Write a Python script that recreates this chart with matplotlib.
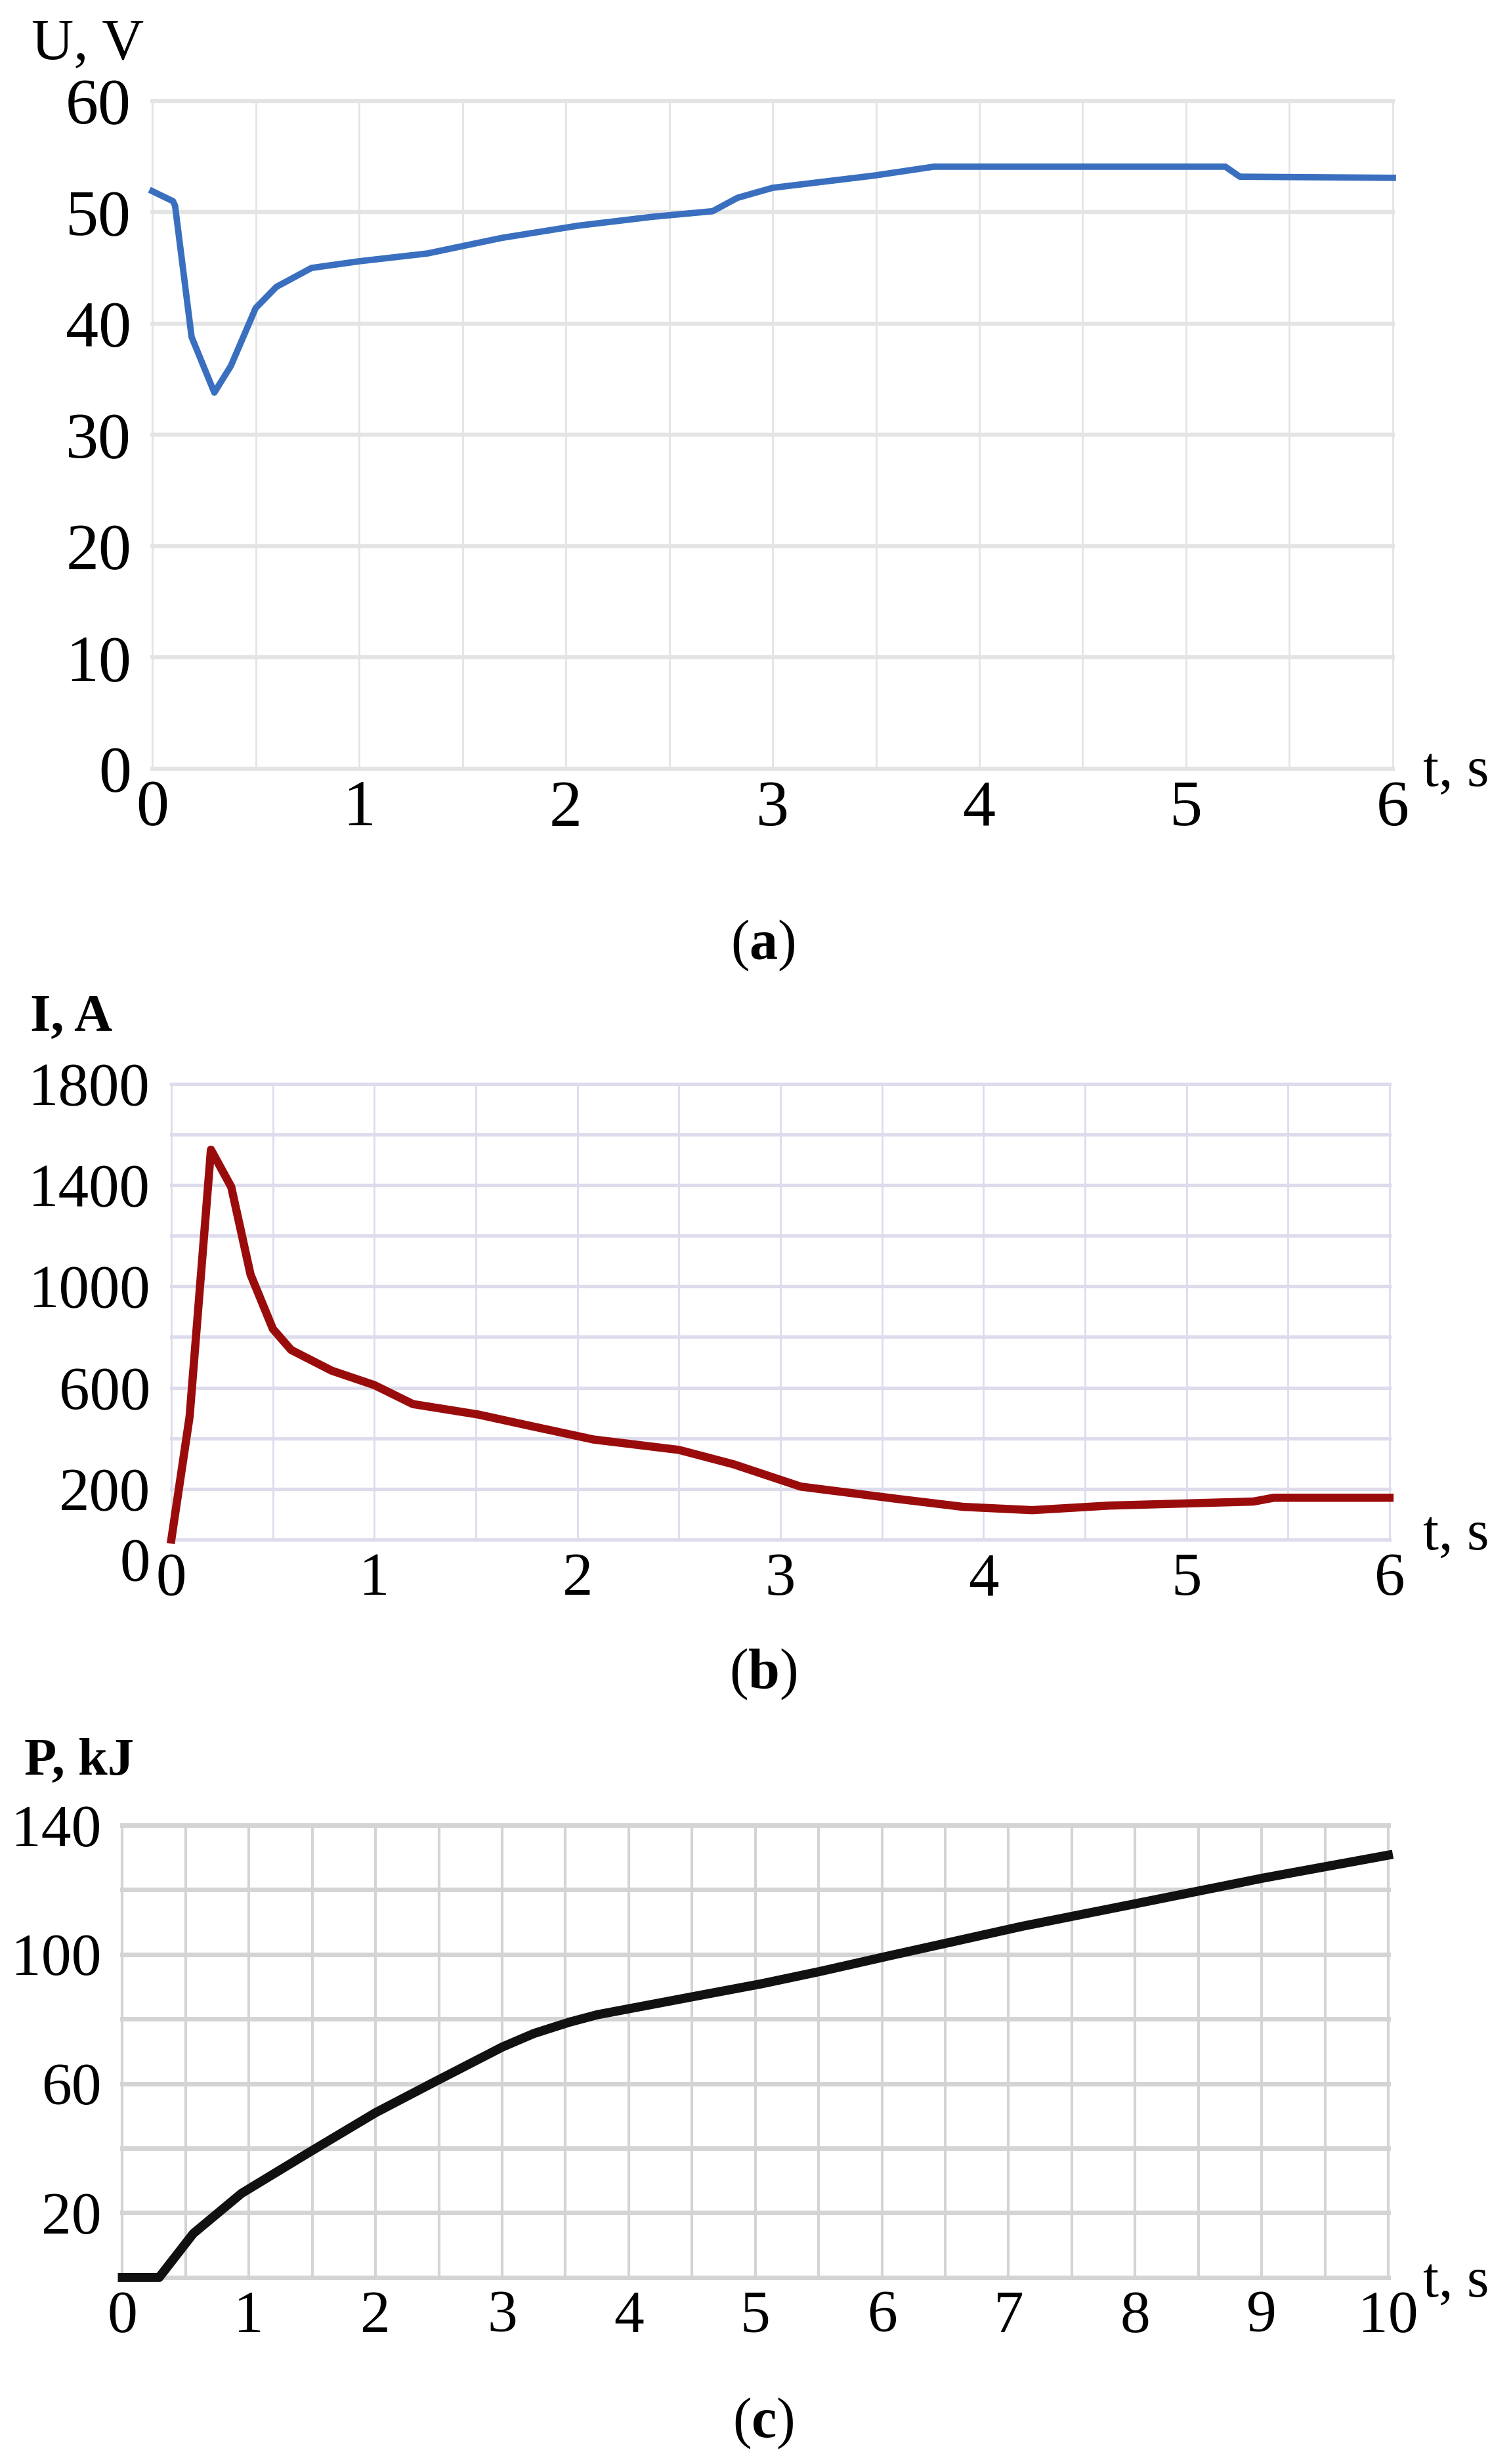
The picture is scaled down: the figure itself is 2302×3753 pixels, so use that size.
import numpy as np
import matplotlib
matplotlib.use("Agg")
import matplotlib.pyplot as plt
from matplotlib.transforms import ScaledTranslation

# (a) voltage
u_t = [0, 0.1, 0.11, 0.19, 0.30, 0.38, 0.50, 0.60, 0.77, 1.0, 1.33, 1.69,
       2.06, 2.42, 2.71, 2.83, 3.0, 3.49, 3.78, 5.19, 5.26, 6.0]
u_v = [51.9, 51.0, 50.6, 38.8, 33.8, 36.2, 41.4, 43.3, 45.0, 45.6, 46.3, 47.7,
       48.8, 49.6, 50.1, 51.3, 52.2, 53.3, 54.1, 54.1, 53.2, 53.1]

# (b) current
i_t = [0, 0.09, 0.195, 0.295, 0.39, 0.50, 0.59, 0.79, 1.0, 1.19, 1.51, 1.75,
       2.08, 2.50, 2.77, 3.1, 3.58, 3.9, 4.24, 4.62, 5.33, 5.43, 6.0]
i_a = [0, 486, 1540, 1393, 1047, 832, 749, 667, 610, 535, 494, 452,
       395, 354, 297, 209, 160, 129, 116, 134, 150, 165, 165]

# (c) energy
p_t = [0, 0.29, 0.56, 0.94, 1.47, 2.0, 2.46, 3.0, 3.25, 3.53, 3.75, 3.98,
       4.25, 4.52, 5.05, 5.51, 6.04, 6.57, 7.11, 8.02, 9.01, 10.0]
p_kj = [0, 0, 13.6, 26, 38.6, 51, 60.4, 71.3, 75.5, 79, 81.3, 83,
        85, 87, 90.9, 94.7, 99.4, 104, 108.7, 115.8, 123.6, 130.7]

u_xticks = [0, 1, 2, 3, 4, 5, 6]
u_yticks = [0, 10, 20, 30, 40, 50, 60]
i_xticks = [0, 1, 2, 3, 4, 5, 6]
i_yticks = [0, 200, 600, 1000, 1400, 1800]
p_xticks = [0, 1, 2, 3, 4, 5, 6, 7, 8, 9, 10]
p_yticks = [20, 60, 100, 140]

plt.rcParams["font.family"] = ["Liberation Serif", "DejaVu Serif"]
plt.rcParams["mathtext.fontset"] = "custom"
plt.rcParams["mathtext.rm"] = "Liberation Serif"
plt.rcParams["mathtext.bf"] = "Liberation Serif:bold"

fig = plt.figure(figsize=(23.02, 37.53), dpi=100)


def setup_axes(rect, xlim, ylim, xgrid, ygrid, xticks, yticks, gcol,
               hw, vw, xpad, size):
    ax = fig.add_axes(rect)
    ax.set_xlim(*xlim)
    ax.set_ylim(*ylim)
    for s in ax.spines.values():
        s.set_visible(False)
    for x in xgrid:
        ax.axvline(x, color=gcol, lw=vw, zorder=0, clip_on=False)
    for y in ygrid:
        ax.axhline(y, color=gcol, lw=hw, zorder=0, clip_on=False)
    ax.set_xticks(xticks)
    ax.set_yticks(yticks)
    ax.tick_params(axis="both", length=0, labelsize=size)
    ax.tick_params(axis="y", pad=23)
    ax.tick_params(axis="x", pad=xpad)
    return ax


# panel (a)
ax_a = setup_axes([0.1008, 0.6880, 0.8210, 0.2710], (0, 6), (0, 60),
                  np.arange(0, 6.01, 0.5), np.arange(0, 61, 10), u_xticks,
                  u_yticks, "#e4e4e4", 4.5, 2.0, 12, 72)
ax_a.plot(u_t, u_v, color="#3a6fbf", lw=7, clip_on=False, zorder=3,
          solid_joinstyle="round")

# panel (b)
ax_b = setup_axes([0.1134, 0.3752, 0.8062, 0.1849], (0, 6), (0, 1800),
                  np.arange(0, 6.01, 0.5), np.arange(0, 1801, 200), i_xticks,
                  i_yticks, "#dcdcec", 3.8, 2.0, 14, 67)
ax_b.plot(i_t, i_a, color="#9a0c0c", lw=9, clip_on=False, zorder=3,
          solid_joinstyle="round")
zero_lbl = ax_b.get_yticklabels()[0]
zero_lbl.set_transform(zero_lbl.get_transform()
                       + ScaledTranslation(0, -0.3, fig.dpi_scale_trans))

# panel (c)
ax_c = setup_axes([0.0810, 0.0757, 0.8378, 0.1836], (0, 10), (0, 140),
                  np.arange(0, 10.01, 0.5), np.arange(0, 141, 20), p_xticks,
                  p_yticks, "#d4d4d4", 5, 3, 14, 66)
ax_c.plot(p_t, p_kj, color="#111111", lw=10, clip_on=False, zorder=3,
          solid_joinstyle="round")

# axis titles and captions
fig.text(0.0209, 0.9763, "U, V", fontsize=64, va="baseline")
fig.text(0.0200, 0.5817, "I, A", fontsize=58, fontweight="bold",
         va="baseline")
fig.text(0.0160, 0.2798, "P, kJ", fontsize=58, fontweight="bold",
         va="baseline")
for y in (0.6811, 0.3712, 0.0680):
    fig.text(0.9420, y, "t, s", fontsize=62, va="baseline")

for y, letter in ((0.6163, "a"), (0.3203, "b"), (0.0165, "c")):
    fig.text(0.505, y, "(" + r"$\mathbf{" + letter + "}$" + ")",
             fontsize=62, ha="center", va="center")

fig.savefig("out.png", dpi=100, facecolor="white")
